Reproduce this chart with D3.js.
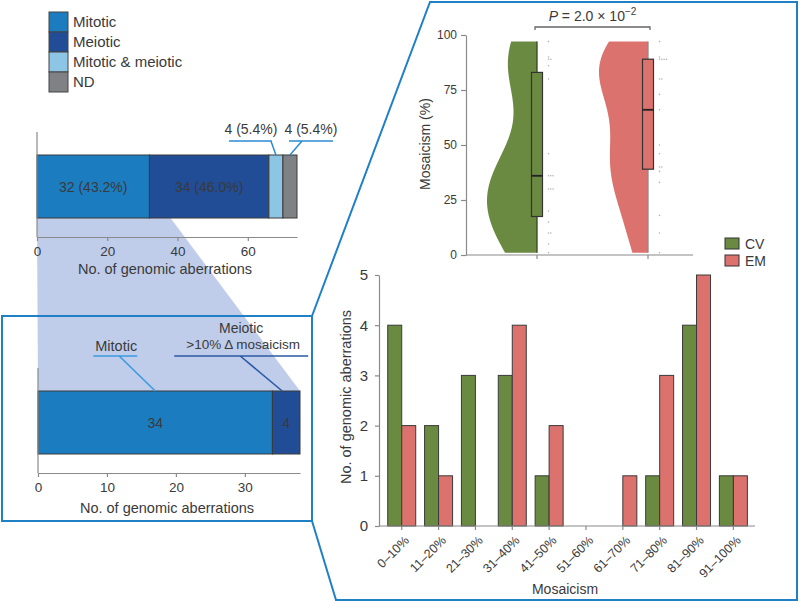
<!DOCTYPE html>
<html><head><meta charset="utf-8">
<script src="https://cdn.jsdelivr.net/npm/d3@7"></script>
<style>
body{margin:0;background:#fff}
svg{display:block}
text{font-family:"Liberation Sans",Arial,sans-serif;fill:#3a3a3a}
</style>
</head><body><svg id="c" width="799" height="603"></svg>
<script>
// ---------------- DATA ----------------
const classes = ["Mitotic", "Meiotic", "Mitotic & meiotic", "ND"];
const classCounts = [32, 34, 4, 4];
const classPercents = ["43.2%", "46.0%", "5.4%", "5.4%"];
const topTicks = [0, 20, 40, 60];

const subsetNames = ["Mitotic", "Meiotic"];
const subsetCounts = [34, 4];
const subTicks = [0, 10, 20, 30];

const groups = ["CV", "EM"];
const cvMosaicism = [1, 5, 10, 10, 15, 20, 30, 30, 30, 36, 36, 36, 46, 80, 86, 89, 89, 90, 97];
const emMosaicism = [1, 10, 18, 33, 38, 40, 40, 46, 50, 66, 73, 80, 80, 89, 89, 89, 89, 90, 97];
const violinTicks = [0, 25, 50, 75, 100];
const pValueMantissa = "2.0";
const pValueExponent = "−2";

const bins = ["0–10%", "11–20%", "21–30%", "31–40%", "41–50%", "51–60%", "61–70%", "71–80%", "81–90%", "91–100%"];
const cvCounts = [4, 2, 3, 3, 1, 0, 0, 1, 4, 1];
const emCounts = [2, 1, 0, 4, 2, 0, 1, 3, 5, 1];
const countTicks = [0, 1, 2, 3, 4, 5];

// ---------------- STYLE / LAYOUT ----------------
const classColors = ["#1b7dc0", "#214d97", "#8dc5e5", "#808184"];
const groupColors = {CV: "#6a8a42", EM: "#dc726d"};
const frameColor = "#1f80c6";
const zoomFill = "#bfcdea";
const axisColor = "#8a8a8a";
const textColor = "#3a3a3a";

const svg = d3.select("#c");

// zoom polygon placeholder group (drawn first)
const gBack = svg.append("g");

// ---------- legend top-left ----------
const leg = svg.append("g");
classes.forEach((c, i) => {
  leg.append("rect").attr("x", 49).attr("y", 12 + i * 20).attr("width", 19).attr("height", 20)
    .attr("fill", classColors[i]).attr("stroke", "#444").attr("stroke-width", 1);
  leg.append("text").attr("x", 73).attr("y", 22 + i * 20).attr("dy", "0.36em")
    .attr("font-size", 15).text(c);
});

// ---------- top stacked bar ----------
const totalTop = d3.sum(classCounts);
const xTop = d3.scaleLinear().domain([0, totalTop]).range([37, 297]);
const topBar = {y: 155, h: 63, axisTop: 132, axisY: 237};
const cumTop = [0, ...d3.cumsum(classCounts)];

// ---------- bottom-left subset bar ----------
const totalSub = d3.sum(subsetCounts);
const xSub = d3.scaleLinear().domain([0, totalSub]).range([38, 300]);
const subBar = {y: 391, h: 63, axisTop: 368, axisY: 473};
const cumSub = [0, ...d3.cumsum(subsetCounts)];

// zoom polygon (from top bar to subset bar)
gBack.append("path")
  .attr("d", `M${xTop(0)},${topBar.y + topBar.h} L${xTop(totalSub)},${topBar.y + topBar.h} L${xSub(totalSub)},${subBar.y} L${xSub(0)},${subBar.y} Z`)
  .attr("fill", zoomFill);

// frames
svg.append("rect").attr("x", 2).attr("y", 316).attr("width", 310).attr("height", 205)
  .attr("fill", "none").attr("stroke", frameColor).attr("stroke-width", 2);
svg.append("path").attr("d", "M312,316 L430,2 L797,2 L797,600 L336,600 L312,521")
  .attr("fill", "none").attr("stroke", frameColor).attr("stroke-width", 2).attr("stroke-linejoin", "miter");

function styleAxis(g, fs) {
  g.selectAll("path,line").attr("stroke", axisColor).attr("stroke-width", 1.2);
  g.selectAll("text").attr("font-size", fs).attr("fill", textColor)
    .attr("font-family", '"Liberation Sans",Arial,sans-serif');
}

// top bar draw
const gTop = svg.append("g");
classCounts.forEach((v, i) => {
  gTop.append("rect").attr("x", xTop(cumTop[i])).attr("y", topBar.y)
    .attr("width", xTop(cumTop[i + 1]) - xTop(cumTop[i])).attr("height", topBar.h)
    .attr("fill", classColors[i]).attr("stroke", "#3a3a3a").attr("stroke-width", 1);
});
[0, 1].forEach(i => {
  gTop.append("text").attr("x", (xTop(cumTop[i]) + xTop(cumTop[i + 1])) / 2).attr("y", topBar.y + topBar.h / 2)
    .attr("dy", "0.36em").attr("text-anchor", "middle").attr("font-size", 14)
    .text(`${classCounts[i]} (${classPercents[i]})`);
});
// callouts for small segments
const calloutCfg = {2: {l0: -47, l1: -4, d0: -5, t: -25}, 3: {l0: -1, l1: 43, d0: 12, t: 21}};
[2, 3].forEach(i => {
  const ax = (xTop(cumTop[i]) + xTop(cumTop[i + 1])) / 2;
  const c = calloutCfg[i], ly = 141;
  gTop.append("path").attr("d", `M${ax + c.l0},${ly} H${ax + c.l1} M${ax + c.d0},${ly} L${ax},${topBar.y}`)
    .attr("fill", "none").attr("stroke", "#2b8bd3").attr("stroke-width", 1.5);
  gTop.append("text").attr("x", ax + c.t).attr("y", 134).attr("text-anchor", "middle").attr("font-size", 14)
    .text(`${classCounts[i]} (${classPercents[i]})`);
});
gTop.append("line").attr("x1", xTop(0)).attr("x2", xTop(0)).attr("y1", topBar.axisTop).attr("y2", topBar.axisY)
  .attr("stroke", axisColor).attr("stroke-width", 1.2);
const axTop = gTop.append("g").attr("transform", `translate(0,${topBar.axisY})`)
  .call(d3.axisBottom(xTop).tickValues(topTicks).tickSize(4).tickPadding(5).tickSizeOuter(0));
styleAxis(axTop, 13.5);
gTop.append("text").attr("x", 165).attr("y", 274).attr("text-anchor", "middle").attr("font-size", 14.5)
  .text("No. of genomic aberrations");

// subset bar draw
const subColors = [classColors[0], classColors[1]];
const gSub = svg.append("g");
subsetCounts.forEach((v, i) => {
  gSub.append("rect").attr("x", xSub(cumSub[i])).attr("y", subBar.y)
    .attr("width", xSub(cumSub[i + 1]) - xSub(cumSub[i])).attr("height", subBar.h)
    .attr("fill", subColors[i]).attr("stroke", "#3a3a3a").attr("stroke-width", 1);
  gSub.append("text").attr("x", (xSub(cumSub[i]) + xSub(cumSub[i + 1])) / 2).attr("y", subBar.y + subBar.h / 2)
    .attr("dy", "0.36em").attr("text-anchor", "middle").attr("font-size", 14).text(v);
});
// subset callouts
{
  const a0 = (xSub(cumSub[0]) + xSub(cumSub[1])) / 2;
  gSub.append("path").attr("d", `M${a0 - 62},356 H${a0 - 18} M${a0 - 36},356 L${a0},${subBar.y}`)
    .attr("fill", "none").attr("stroke", "#3a9be0").attr("stroke-width", 1.6);
  gSub.append("text").attr("x", a0 - 39).attr("y", 351).attr("text-anchor", "middle").attr("font-size", 14.5)
    .text(subsetNames[0]);
  const a1 = (xSub(cumSub[1]) + xSub(cumSub[2])) / 2 - 4;
  gSub.append("path").attr("d", `M${a1 - 108},356 H${a1 + 26} M${a1 - 42},356 L${a1},${subBar.y}`)
    .attr("fill", "none").attr("stroke", "#2c5aa5").attr("stroke-width", 1.6);
  gSub.append("text").attr("x", a1 - 41).attr("y", 333).attr("text-anchor", "middle").attr("font-size", 14)
    .text(subsetNames[1]);
  gSub.append("text").attr("x", a1 - 39).attr("y", 349).attr("text-anchor", "middle").attr("font-size", 13.5)
    .text(">10% Δ mosaicism");
}
gSub.append("line").attr("x1", xSub(0)).attr("x2", xSub(0)).attr("y1", subBar.axisTop).attr("y2", subBar.axisY)
  .attr("stroke", axisColor).attr("stroke-width", 1.2);
const axSub = gSub.append("g").attr("transform", `translate(0,${subBar.axisY})`)
  .call(d3.axisBottom(xSub).tickValues(subTicks).tickSize(4).tickPadding(5).tickSizeOuter(0));
styleAxis(axSub, 13.5);
gSub.append("text").attr("x", 167).attr("y", 513).attr("text-anchor", "middle").attr("font-size", 14.5)
  .text("No. of genomic aberrations");

// ---------- violin panel ----------
const gV = svg.append("g");
const yV = d3.scaleLinear().domain([0, 100]).range([255, 35]);
const xV = d3.scalePoint().domain(groups).range([537, 648]);
const samples = {CV: cvMosaicism, EM: emMosaicism};

function kde(values) {
  const n = values.length, sd = d3.deviation(values), bw = sd * Math.pow(n, -0.2);
  const lo = d3.min(values), hi = d3.max(values);
  const pts = d3.range(lo, hi, 0.5).concat([hi]);
  return pts.map(v => [v, d3.mean(values, x => Math.exp(-0.5 * ((v - x) / bw) ** 2)) / (bw * Math.sqrt(2 * Math.PI))]);
}
const dens = {CV: kde(cvMosaicism), EM: kde(emMosaicism)};
const maxD = d3.max(groups, g => d3.max(dens[g], d => d[1]));
const wV = d3.scaleLinear().domain([0, maxD]).range([0, 50]);

groups.forEach(g => {
  const cx = xV(g);
  const area = d3.area().curve(d3.curveBasis)
    .y(d => yV(d[0])).x0(d => cx - wV(d[1])).x1(cx);
  gV.append("path").datum(dens[g]).attr("d", area).attr("fill", groupColors[g]);
  const ext = d3.extent(samples[g]);
  gV.append("line").attr("x1", cx).attr("x2", cx).attr("y1", yV(ext[1])).attr("y2", yV(ext[0]))
    .attr("stroke", g === "CV" ? "#34461f" : "#8a8a8a").attr("stroke-width", 1.3);
  const s = samples[g].slice().sort(d3.ascending);
  const q1 = d3.quantile(s, 0.25), med = d3.quantile(s, 0.5), q3 = d3.quantile(s, 0.75);
  gV.append("rect").attr("x", cx - 5.5).attr("width", 11).attr("y", yV(q3)).attr("height", yV(q1) - yV(q3))
    .attr("fill", groupColors[g]).attr("stroke", "#333").attr("stroke-width", 1.2);
  gV.append("line").attr("x1", cx - 5.5).attr("x2", cx + 5.5).attr("y1", yV(med)).attr("y2", yV(med))
    .attr("stroke", "#222").attr("stroke-width", 1.8);
  // dots
  const grouped = d3.rollups(s, v => v.length, d => d);
  grouped.forEach(([val, k]) => {
    for (let j = 0; j < k; j++) {
      gV.append("circle").attr("cx", cx + 11.5 + j * 2.3).attr("cy", yV(val)).attr("r", 0.8).attr("fill", "#b3b3b3");
    }
  });
});
const axVy = gV.append("g").attr("transform", "translate(466,0)")
  .call(d3.axisLeft(yV).tickValues(violinTicks).tickSize(5).tickPadding(4).tickSizeOuter(0));
styleAxis(axVy, 12);
axVy.selectAll("text").attr("fill", "#555");
gV.append("line").attr("x1", 466).attr("x2", 693).attr("y1", 255).attr("y2", 255)
  .attr("stroke", axisColor).attr("stroke-width", 1.2);
groups.forEach(g => {
  gV.append("line").attr("x1", xV(g)).attr("x2", xV(g)).attr("y1", 255).attr("y2", 259)
    .attr("stroke", axisColor).attr("stroke-width", 1.2);
});
gV.append("text").attr("transform", "translate(430,144) rotate(-90)").attr("text-anchor", "middle")
  .attr("font-size", 14).text("Mosaicism (%)");
// p-value bracket
gV.append("path").attr("d", `M${xV("CV") - 2},30 V27 H${xV("EM") + 2} V30`)
  .attr("fill", "none").attr("stroke", "#666").attr("stroke-width", 1.3);
const pt = gV.append("text").attr("x", (xV("CV") + xV("EM")) / 2).attr("y", 21).attr("text-anchor", "middle").attr("font-size", 14);
pt.append("tspan").attr("font-style", "italic").text("P");
pt.append("tspan").text(` = ${pValueMantissa} × 10`);
pt.append("tspan").attr("dy", -6).attr("font-size", 10).text(pValueExponent);

// legend CV/EM
groups.forEach((g, i) => {
  svg.append("rect").attr("x", 725).attr("y", 238 + i * 17).attr("width", 14).attr("height", 11)
    .attr("fill", groupColors[g]).attr("stroke", "#333").attr("stroke-width", 1);
  svg.append("text").attr("x", 745).attr("y", 244 + i * 17).attr("dy", "0.36em").attr("font-size", 14).text(g);
});

// ---------- histogram ----------
const gH = svg.append("g");
const xB = d3.scaleBand().domain(bins).range([383.3, 751.8]);
const xG = d3.scaleBand().domain(groups).range([xB.bandwidth() / 2 - 14, xB.bandwidth() / 2 + 14]);
const yB = d3.scaleLinear().domain([0, 5]).range([526, 275]);
const countsBy = {CV: cvCounts, EM: emCounts};
bins.forEach((b, i) => {
  groups.forEach(g => {
    const v = countsBy[g][i];
    if (v > 0) {
      gH.append("rect").attr("x", xB(b) + xG(g)).attr("width", xG.bandwidth())
        .attr("y", yB(v)).attr("height", yB(0) - yB(v))
        .attr("fill", groupColors[g]).attr("stroke", "#3a3a3a").attr("stroke-width", 1);
    }
  });
});
const axHy = gH.append("g").attr("transform", "translate(379,0)")
  .call(d3.axisLeft(yB).tickValues(countTicks).tickFormat(d3.format("d")).tickSize(4).tickPadding(7).tickSizeOuter(0));
styleAxis(axHy, 15);
gH.append("line").attr("x1", 379).attr("x2", 755).attr("y1", 526).attr("y2", 526)
  .attr("stroke", axisColor).attr("stroke-width", 1.2);
bins.forEach(b => {
  const cx = xB(b) + xB.bandwidth() / 2;
  gH.append("line").attr("x1", cx).attr("x2", cx).attr("y1", 526).attr("y2", 530)
    .attr("stroke", axisColor).attr("stroke-width", 1.2);
  gH.append("text").attr("transform", `translate(${cx + 5},${538}) rotate(-45)`)
    .attr("text-anchor", "end").attr("dy", "0.36em").attr("font-size", 12.5).text(b);
});
gH.append("text").attr("x", 565).attr("y", 594).attr("text-anchor", "middle").attr("font-size", 14).text("Mosaicism");
gH.append("text").attr("transform", "translate(351,397) rotate(-90)").attr("text-anchor", "middle")
  .attr("font-size", 14.5).text("No. of genomic aberrations");
</script>
</body></html>
